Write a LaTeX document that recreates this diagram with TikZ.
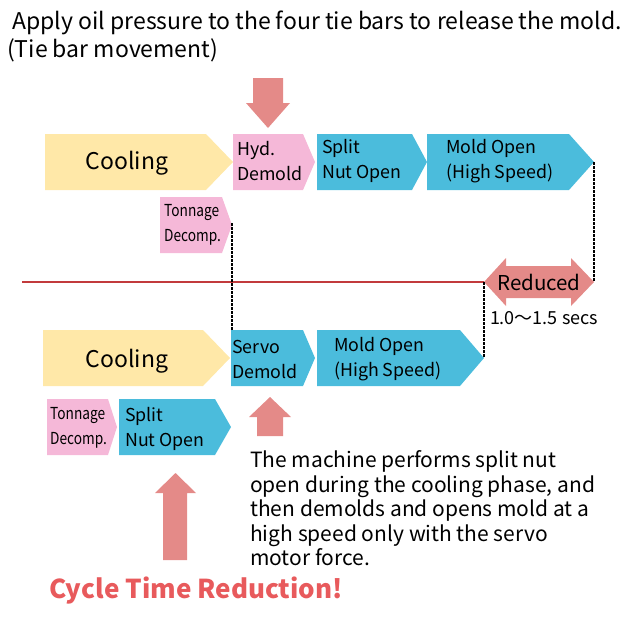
\documentclass[tikz,border=0pt]{standalone}
\usepackage{fontspec}
\setmainfont{Noto Sans CJK JP}
\newfontfamily\condfont[FakeStretch=0.83]{Noto Sans CJK JP}
\definecolor{cyellow}{HTML}{FFE8A8}
\definecolor{cpink}{HTML}{F5B8D8}
\definecolor{cblue}{HTML}{4BBCDC}
\definecolor{csalmon}{HTML}{E48A88}
\definecolor{cline}{HTML}{C23A3C}
\definecolor{cred}{HTML}{E85A5C}
\begin{document}
\begin{tikzpicture}[x=1pt,y=-1pt,
  lbl/.style={anchor=west,align=left,inner sep=0pt,font=\fontsize{17.8}{25}\selectfont},
  cond/.style={anchor=west,align=left,inner sep=0pt,font=\condfont\fontsize{16.5}{25}\selectfont},
  big/.style={inner sep=0pt,font=\fontsize{23}{25}\selectfont},
  dashline/.style={black,line width=1.2pt,dash pattern=on 2.5pt off 1.5pt}]
\useasboundingbox (0,0) rectangle (640,633);
% chevron macro: x1, xb, xt, ytop, ybot, color
\newcommand\chev[6]{\fill[#6] (#1,#4) -- (#2,#4) -- (#3,{(#4+#5)/2}) -- (#2,#5) -- (#1,#5) -- cycle;}
% top text
\node[anchor=west,inner sep=0pt,font=\fontsize{23}{25}\selectfont] (t1) at (12,23) {Apply oil pressure to the four tie bars to release the mold.};
\node[anchor=west,inner sep=0pt,font=\fontsize{23}{25}\selectfont] (t2) at (7,50) {(Tie bar movement)};
% down arrow
\fill[csalmon] (253,78) -- (283,78) -- (283,103) -- (290,103) -- (268,128) -- (246,103) -- (253,103) -- cycle;
% top row
\chev{45}{206}{233}{134}{190}{cyellow}
\chev{233}{303}{315}{134}{190}{cpink}
\chev{317}{412}{427}{134}{190}{cblue}
\chev{427}{569}{594}{134}{190}{cblue}
\node[big] (cool1) at (127,163) {Cooling};
\node[lbl] (hyd) at (237,161) {Hyd.\\Demold};
\node[lbl] (snt) at (322,161) {Split\\Nut Open};
\node[lbl] (mo1) at (446,161) {Mold Open\\(High Speed)};
\chev{160}{222}{232}{197}{253}{cpink}
\node[cond] (td1) at (164,225) {Tonnage\\Decomp.};
% red line
\coordinate (l0) at (22,282);
\coordinate (l1) at (484,282);
\draw[cline,line width=1.3pt] (l0) -- (l1);
% reduced arrow
\fill[csalmon] (484,282) -- (506,258) -- (506,266) -- (571,266) -- (571,258) -- (594,282) -- (571,306) -- (571,298) -- (506,298) -- (506,306) -- cycle;
\node[big,font=\fontsize{20.5}{25}\selectfont] (red) at (539,282) {Reduced};
\node[inner sep=0pt,font=\fontsize{18}{20}\selectfont] (secs) at (544,318) {1.0〜1.5 secs};
% dashed lines
\coordinate (d1a) at (232,223); \coordinate (d1b) at (232,330);
\coordinate (d2a) at (594,162); \coordinate (d2b) at (594,282);
\coordinate (d3a) at (484,282); \coordinate (d3b) at (484,358);
\draw[dashline] (d1a) -- (d1b);
\draw[dashline] (d2a) -- (d2b);
\draw[dashline] (d3a) -- (d3b);
% bottom row
\chev{43}{203}{230}{330}{386}{cyellow}
\chev{231}{303}{315}{330}{386}{cblue}
\chev{317}{460}{484}{330}{386}{cblue}
\node[big] (cool2) at (127,361) {Cooling};
\node[lbl] (srv) at (232,359) {Servo\\Demold};
\node[lbl] (mo2) at (334,359) {Mold Open\\(High Speed)};
\chev{47}{108}{117}{399}{455}{cpink}
\chev{119}{215}{231}{399}{455}{cblue}
\node[cond] (td2) at (50,428) {Tonnage\\Decomp.};
\node[lbl] (snb) at (125,429) {Split\\Nut Open};
% small up arrow
\fill[csalmon] (257,436) -- (283,436) -- (283,417) -- (291,417) -- (270,397) -- (249,417) -- (257,417) -- cycle;
% big up arrow
\fill[csalmon] (163,560) -- (187,560) -- (187,493) -- (196,493) -- (175.5,473) -- (155,493) -- (163,493) -- cycle;
% body text
\node[anchor=north west,align=left,inner sep=0pt,font=\fontsize{21}{24.5}\selectfont] (body) at (250,450.5) {The machine performs split nut\\open during the cooling phase, and\\then demolds and opens mold at a\\high speed only with the servo\\motor force.};
\node[anchor=west,inner sep=0pt,text=cred,font=\bfseries\fontsize{26}{30}\selectfont] (ctr) at (49,591) {Cycle Time Reduction!};
\end{tikzpicture}
\end{document}
